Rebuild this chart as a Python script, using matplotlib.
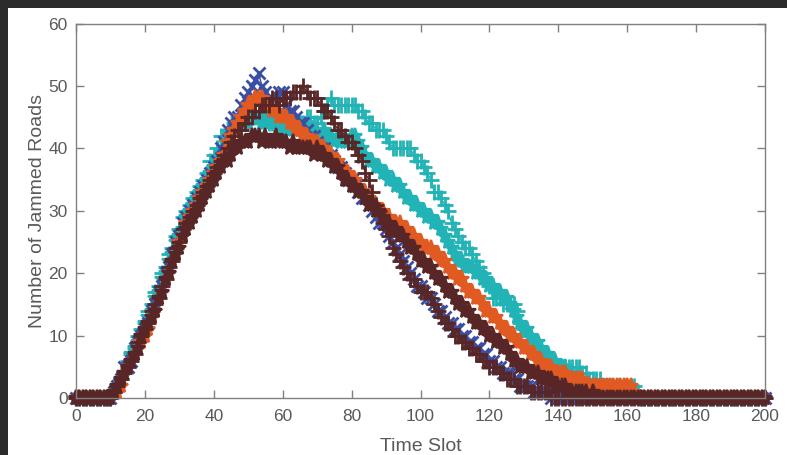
import matplotlib
matplotlib.use("Agg")
import matplotlib.pyplot as plt
from matplotlib.patches import Rectangle

plt.rcParams['font.family'] = ['Liberation Sans', 'DejaVu Sans']

time_slots = list(range(0, 201))

blue_x = [0,0,0,0,0,0,0,0,0,0,0,
    1,2,3,5,5,6,8,9,10,11,
    12,14,15,17,18,20,21,23,25,26,
    28,29,30,31,32,33,34,35,36,37,
    38,40,41,43,44,45,45,47,48,49,
    50,51,52,50,49,48,48,47,49,49,
    47,46,46,45,44,44,43,42,42,41,
    40,40,39,39,38,37,37,36,35,35,
    34,33,32,32,31,30,29,28,28,27,
    26,25,24,23,22,21,20,19,18,18,
    17,16,16,15,14,14,13,12,12,11,
    11,10,10,9,9,8,8,7,7,6,
    6,5,5,4,4,4,3,3,2,2,
    2,2,1,1,1,1,1,0,1,0,
    0,0,0,0,0,0,0,0,0,0,
    0,0,0,0,0,0,0,0,0,0,
    0,0,0,0,0,0,0,0,0,0,
    0,0,0,0,0,0,0,0,0,0,
    0,0,0,0,0,0,0,0,0,0,
    0,0,0,0,0,0,0,0,0,0]

orange_star = [0,0,0,0,0,0,0,0,0,0,0,
    1,1,2,4,5,6,7,8,9,10,
    11,13,14,16,17,19,20,22,23,25,
    26,28,29,30,31,32,33,34,35,36,
    37,38,39,41,42,43,44,45,46,47,
    47,48,48,48,47,47,46,46,45,45,
    45,44,44,43,43,42,42,41,41,41,
    40,40,39,39,38,38,37,36,36,35,
    35,34,33,33,32,31,31,30,30,29,
    29,28,28,28,27,27,26,26,25,25,
    24,24,24,23,23,22,22,21,20,20,
    19,19,18,17,17,16,16,15,14,14,
    13,13,12,11,11,10,10,9,9,8,
    8,7,7,6,6,5,5,5,4,4,
    4,4,3,3,3,3,3,2,2,2,
    2,2,2,2,2,2,2,2,2,2,
    2,1,0,0,0,0,0,0,0,0,
    0,0,0,0,0,0,0,0,0,0,
    0,0,0,0,0,0,0,0,0,0,
    0,0,0,0,0,0,0,0,0,0]

cyan_plus = [0,0,0,0,0,0,0,0,0,0,0,
    1,2,3,4,6,7,8,10,11,12,
    14,15,17,18,20,21,23,24,26,27,
    29,30,31,32,33,34,35,36,38,39,
    40,42,42,43,43,44,45,45,46,45,
    46,45,44,45,45,44,44,45,45,45,
    45,44,45,44,44,44,45,45,44,44,
    45,46,47,48,47,47,47,47,47,47,
    47,46,46,45,44,44,43,43,43,42,
    41,40,40,40,40,40,40,39,38,38,
    37,36,35,33,33,32,31,30,28,27,
    26,25,24,24,23,22,21,20,19,18,
    16,16,16,15,15,15,15,14,12,11,
    10,9,8,7,6,6,6,5,5,5,
    5,5,5,5,5,5,4,4,3,3,
    3,3,2,2,2,2,2,2,2,2,
    2,2,1,0,0,0,0,0,0,0,
    0,0,0,0,0,0,0,0,0,0,
    0,0,0,0,0,0,0,0,0,0,
    0,0,0,0,0,0,0,0,0,0]

cyan_star = [0,0,0,0,0,0,0,0,0,0,0,
    1,2,3,4,5,7,8,9,10,12,
    13,14,16,17,19,20,22,23,25,26,
    27,29,30,31,32,33,34,35,36,37,
    38,39,40,41,42,43,43,44,44,44,
    45,45,45,44,44,45,44,44,44,43,
    44,43,43,44,43,43,42,43,43,42,
    42,43,42,42,41,42,41,41,41,42,
    42,41,40,39,38,38,37,37,36,36,
    35,35,34,34,33,32,32,31,31,30,
    30,29,29,28,28,27,26,25,24,23,
    22,22,21,21,21,20,20,19,19,18,
    18,17,17,16,16,15,14,13,12,11,
    11,10,9,9,8,7,7,6,6,5,
    5,5,4,4,3,3,2,2,1,1,
    1,0,0,0,0,0,0,0,0,0,
    0,0,0,0,0,0,0,0,0,0,
    0,0,0,0,0,0,0,0,0,0,
    0,0,0,0,0,0,0,0,0,0,
    0,0,0,0,0,0,0,0,0,0]

brown_plus = [0,0,0,0,0,0,0,0,0,0,0,
    1,2,3,4,5,6,7,9,10,11,
    12,14,15,16,18,19,21,22,24,25,
    27,28,29,30,31,32,33,34,35,36,
    37,38,39,40,41,42,43,43,44,45,
    45,46,46,47,47,47,48,48,47,48,
    48,48,49,49,49,50,49,48,48,48,
    47,46,46,45,44,43,43,42,41,41,
    40,39,38,36,35,33,31,30,28,27,
    26,24,23,22,21,20,19,19,18,17,
    17,17,16,15,14,13,12,12,11,10,
    10,9,9,8,8,7,7,6,6,5,
    5,5,4,4,3,3,3,2,2,2,
    2,1,1,1,1,1,1,0,0,0,
    0,0,0,0,0,0,0,0,0,0,
    0,0,0,0,0,0,0,0,0,0,
    0,0,0,0,0,0,0,0,0,0,
    0,0,0,0,0,0,0,0,0,0,
    0,0,0,0,0,0,0,0,0,0,
    0,0,0,0,0,0,0,0,0,0]

brown_star = [0,0,0,0,0,0,0,0,0,0,0,
    1,2,3,4,5,6,7,8,10,11,
    12,13,14,16,17,19,20,22,23,24,
    26,27,28,29,30,31,32,33,34,35,
    36,37,38,38,39,40,40,41,41,41,
    42,42,42,41,42,41,41,42,41,41,
    41,40,41,40,40,40,40,40,39,40,
    39,39,38,38,37,37,36,35,35,34,
    34,33,33,32,31,31,30,30,29,28,
    28,27,27,26,26,25,24,24,23,22,
    22,21,21,20,19,19,18,17,17,16,
    15,15,14,14,13,12,12,11,11,10,
    10,9,9,8,8,7,6,6,5,5,
    5,4,4,4,3,3,3,3,2,2,
    2,2,1,1,1,1,1,1,0,1,
    0,0,0,0,0,0,0,0,0,0,
    0,0,0,0,0,0,0,0,0,0,
    0,0,0,0,0,0,0,0,0,0,
    0,0,0,0,0,0,0,0,0,0,
    0,0,0,0,0,0,0,0,0,0]

series = [
    (cyan_plus, '#22b3b6', '+'),
    (cyan_star, '#22b3b6', '*'),
    (blue_x, '#3b4ea6', 'x'),
    (orange_star, '#e05a22', '*'),
    (brown_plus, '#582626', '+'),
    (brown_star, '#582626', '*'),
]

x_ticks = [0, 20, 40, 60, 80, 100, 120, 140, 160, 180, 200]
y_ticks = [0, 10, 20, 30, 40, 50, 60]

fig = plt.figure(figsize=(7.87, 4.55), dpi=100)
fig.patch.set_facecolor('white')
ax = fig.add_axes([76/787, 1-398/455, (765-76)/787, (398-23.5)/455])

style = {'+': (11, 2.0), '*': (11, 1.6), 'x': (9, 2.0)}
for vals, col, mk in series:
    ms, mew = style[mk]
    ax.plot(time_slots, vals, color=col, marker=mk, markersize=ms,
            markeredgewidth=mew, linewidth=1.0, clip_on=False)

ax.set_xlim(0, 200)
ax.set_ylim(0, 60)
ax.set_xticks(x_ticks)
ax.set_yticks(y_ticks)
for s in ax.spines.values():
    s.set_color('#808080')
    s.set_linewidth(1.0)
ax.tick_params(direction='in', length=6, width=1, colors='#808080',
               labelcolor='#5a5a5a', labelsize=12.5, top=True, right=True)
ax.tick_params(axis='x', pad=8)
ax.tick_params(axis='y', pad=6)
ax.set_xlabel('Time Slot', fontsize=14, color='#5a5a5a', labelpad=10)
ax.set_ylabel('Number of Jammed Roads', fontsize=14, color='#5a5a5a', labelpad=2)

# dark frame at top and left edges
fig.patches.append(Rectangle((0, 1-8/455), 1, 8/455, transform=fig.transFigure,
                             facecolor='#2b2b2b', edgecolor='none', zorder=10))
fig.patches.append(Rectangle((0, 0), 8/787, 1, transform=fig.transFigure,
                             facecolor='#2b2b2b', edgecolor='none', zorder=10))

fig.savefig('out.png', dpi=100)
